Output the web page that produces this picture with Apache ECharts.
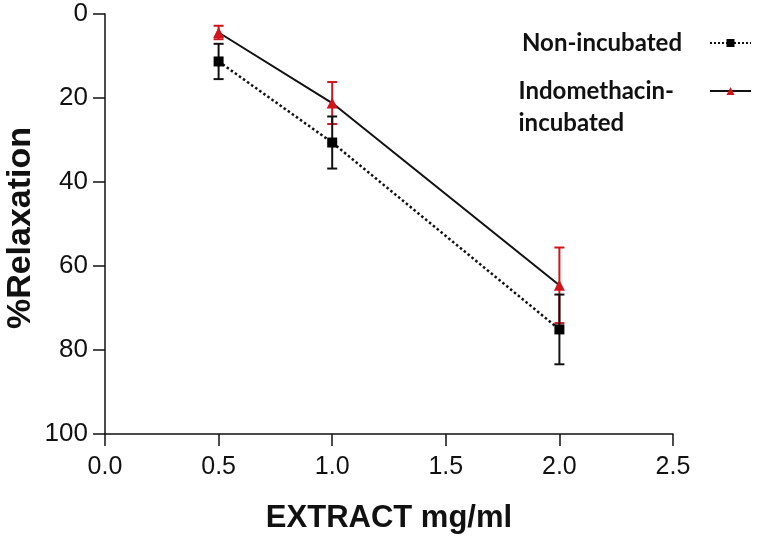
<!DOCTYPE html>
<html>
<head>
<meta charset="utf-8">
<script src="https://cdn.jsdelivr.net/npm/echarts@6/dist/echarts.min.js"></script>
<style>html,body{margin:0;padding:0;background:#fff}#c{width:757px;height:540px}</style>
</head>
<body>
<div id="c"></div>
<script>
const doses = [0.5, 1.0, 2.0];
const nonMean = [11.3, 30.6, 75.1];
const nonSem = [4.2, 6.2, 8.3];
const indoMean = [4.4, 21.2, 64.6];
const indoSem = [1.6, 5.0, 9.0];
const xTicks = ['0.0', '0.5', '1.0', '1.5', '2.0', '2.5'];
const yTicks = ['0', '20', '40', '60', '80', '100'];
const seriesNames = ['Non-incubated', 'Indomethacin-incubated'];

const chart = echarts.init(document.getElementById('c'));
const F = "'Liberation Sans', Arial, Helvetica, sans-serif";
const LF = "Lato, 'Noto Sans', sans-serif";

function pts(means) { return doses.map((d, i) => [d, means[i]]); }
function errs(means, sems) { return doses.map((d, i) => [d, means[i] - sems[i], means[i] + sems[i]]); }

function errRender(color) {
  return function (params, api) {
    const x = api.value(0);
    const lo = api.coord([x, api.value(1)]);
    const hi = api.coord([x, api.value(2)]);
    const cap = 5;
    const st = { stroke: color, lineWidth: 2 };
    return {
      type: 'group',
      children: [
        { type: 'line', shape: { x1: lo[0], y1: lo[1], x2: hi[0], y2: hi[1] }, style: st },
        { type: 'line', shape: { x1: lo[0] - cap, y1: lo[1], x2: lo[0] + cap, y2: lo[1] }, style: st },
        { type: 'line', shape: { x1: hi[0] - cap, y1: hi[1], x2: hi[0] + cap, y2: hi[1] }, style: st }
      ]
    };
  };
}

const option = {
  backgroundColor: '#fff',
  animation: false,
  grid: { left: 105, right: 84, top: 14, bottom: 106, containLabel: false, outerBoundsMode: 'none' },
  xAxis: {
    type: 'value', min: 0, max: 2.5, interval: 0.5,
    name: 'EXTRACT mg/ml', nameLocation: 'middle', nameGap: 69, nameMoveOverlap: false,
    nameTextStyle: { fontFamily: F, fontWeight: 'bold', fontSize: 31, color: '#111' },
    axisLine: { show: true, onZero: false, lineStyle: { color: '#111', width: 1.5 } },
    axisTick: { show: true, length: 12, lineStyle: { color: '#111', width: 1.5 } },
    axisLabel: { fontFamily: F, fontSize: 25, color: '#111', margin: 21,
      formatter: function (v) { return xTicks[Math.round(v / 0.5)]; } },
    splitLine: { show: false }
  },
  yAxis: {
    type: 'value', min: 0, max: 100, interval: 20, inverse: true,
    name: '%Relaxation', nameLocation: 'middle', nameGap: 67, nameMoveOverlap: false,
    nameTextStyle: { fontFamily: F, fontWeight: 'bold', fontSize: 34, color: '#111', padding: [0, 8, 0, 0] },
    axisLine: { show: true, onZero: false, lineStyle: { color: '#111', width: 1.5 } },
    axisTick: { show: true, length: 12, lineStyle: { color: '#111', width: 1.5 } },
    axisLabel: { fontFamily: F, fontSize: 26, color: '#111', margin: 17,
      formatter: function (v) { return yTicks[Math.round(v / 20)]; } },
    splitLine: { show: false }
  },
  legend: [
    {
      data: [seriesNames[0]], right: 5, top: 27, padding: 0, align: 'right',
      itemWidth: 41, itemHeight: 10, selectedMode: false,
      textStyle: { fontFamily: LF, fontWeight: 'bold', fontSize: 24, color: '#111', lineHeight: 32, padding: [0, 23, 0, 0] }
    },
    {
      data: [seriesNames[1]], right: 5, top: 79, padding: 0, align: 'right',
      itemWidth: 41, itemHeight: 10, selectedMode: false,
      formatter: function () { return '{a|Indomethacin-}\n{a|incubated}'; },
      textStyle: { padding: [32, 31, 0, 0],
        rich: { a: { fontFamily: LF, fontWeight: 'bold', fontSize: 24, color: '#111', lineHeight: 32, align: 'left' } } }
    }
  ],
  series: [
    { type: 'custom', name: 'indoErr', renderItem: errRender('#d0141b'), data: errs(indoMean, indoSem),
      encode: { x: 0, y: [1, 2] }, z: 1, silent: true },
    { type: 'custom', name: 'nonErr', renderItem: errRender('#111'), data: errs(nonMean, nonSem),
      encode: { x: 0, y: [1, 2] }, z: 1, silent: true },
    { type: 'line', name: seriesNames[0], data: pts(nonMean), symbol: 'rect', symbolSize: 10,
      itemStyle: { color: '#000' }, lineStyle: { color: '#111', width: 2.5, type: 'dotted' }, z: 3 },
    { type: 'line', name: seriesNames[1], data: pts(indoMean), symbol: 'triangle', symbolSize: 11,
      itemStyle: { color: '#d0141b' }, lineStyle: { color: '#111', width: 2 }, z: 4 }
  ]
};
chart.setOption(option);
</script>
</body>
</html>
